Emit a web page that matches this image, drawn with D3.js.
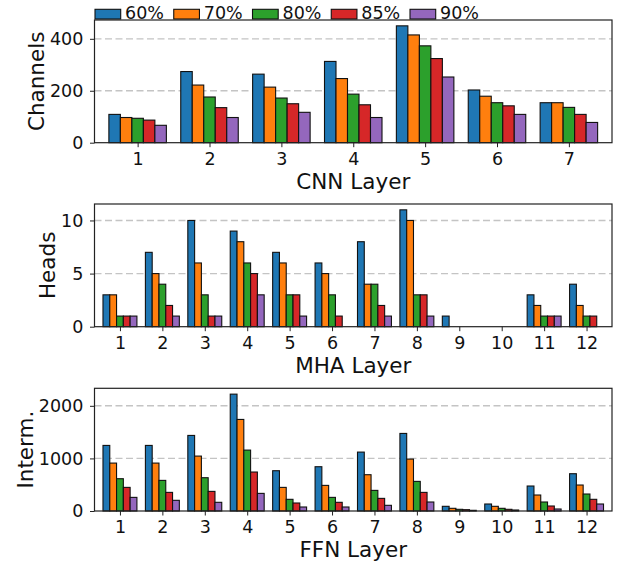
<!DOCTYPE html>
<html>
<head>
<meta charset="utf-8">
<script src="https://cdn.jsdelivr.net/npm/d3@7"></script>
<style>
  html, body { margin: 0; padding: 0; background: #fff; }
  svg { display: block; font-family: "DejaVu Sans", sans-serif; }
</style>
</head>
<body>
<svg id="chart" width="618" height="563"></svg>
<script>
// ---- data ----
const seriesNames = ["60%", "70%", "80%", "85%", "90%"];
const seriesColors = ["#1f77b4", "#ff7f0e", "#2ca02c", "#d62728", "#9467bd"];

const cnnLayers = ["1", "2", "3", "4", "5", "6", "7"];
const cnn60 = [109, 274, 264, 313, 450, 203, 154];
const cnn70 = [97, 222, 214, 247, 415, 179, 154];
const cnn80 = [94, 176, 172, 187, 373, 154, 136];
const cnn85 = [87, 135, 150, 146, 324, 142, 109];
const cnn90 = [67, 97, 117, 97, 253, 109, 78];
const cnnTicks = [0, 200, 400];

const mhaLayers = ["1", "2", "3", "4", "5", "6", "7", "8", "9", "10", "11", "12"];
const mha60 = [3, 7, 10, 9, 7, 6, 8, 11, 1, 0, 3, 4];
const mha70 = [3, 5, 6, 8, 6, 5, 4, 10, 0, 0, 2, 2];
const mha80 = [1, 4, 3, 6, 3, 3, 4, 3, 0, 0, 1, 1];
const mha85 = [1, 2, 1, 5, 3, 1, 2, 3, 0, 0, 1, 1];
const mha90 = [1, 1, 1, 3, 1, 0, 1, 1, 0, 0, 1, 0];
const mhaTicks = [0, 5, 10];

const ffnLayers = ["1", "2", "3", "4", "5", "6", "7", "8", "9", "10", "11", "12"];
const ffn60 = [1247, 1247, 1437, 2222, 766, 842, 1120, 1475, 89, 133, 475, 709];
const ffn70 = [911, 911, 1044, 1741, 449, 487, 690, 987, 51, 89, 304, 494];
const ffn80 = [614, 582, 633, 1158, 222, 259, 392, 563, 32, 51, 171, 323];
const ffn85 = [449, 354, 373, 741, 152, 165, 240, 354, 25, 32, 95, 222];
const ffn90 = [259, 203, 165, 335, 76, 76, 108, 171, 13, 19, 38, 133];
const ffnTicks = [0, 1000, 2000];

const panels = [
  { cats: cnnLayers, series: [cnn60, cnn70, cnn80, cnn85, cnn90], ticks: cnnTicks, ylabel: "Channels", xlabel: "CNN Layer", top: 20 },
  { cats: mhaLayers, series: [mha60, mha70, mha80, mha85, mha90], ticks: mhaTicks, ylabel: "Heads", xlabel: "MHA Layer", top: 204 },
  { cats: ffnLayers, series: [ffn60, ffn70, ffn80, ffn85, ffn90], ticks: ffnTicks, ylabel: "Interm.", xlabel: "FFN Layer", top: 388.3 }
];

// ---- layout ----
const svg = d3.select("#chart");
const left = 94.5, right = 612, plotH = 122.7;
const barW = 0.16;
const tickFont = 17.5, labelFont = 21.5;

panels.forEach(p => {
  const n = p.cats.length;
  const x = d3.scaleLinear().domain([-0.6, n - 0.4]).range([left, right]);
  const ymax = d3.max(p.series.flat()) * 1.05;
  const y = d3.scaleLinear().domain([0, ymax]).range([p.top + plotH, p.top]);

  const g = svg.append("g");

  // grid
  g.append("g").selectAll("line").data(p.ticks.filter(t => t > 0)).join("line")
    .attr("x1", left).attr("x2", right)
    .attr("y1", d => y(d)).attr("y2", d => y(d))
    .attr("stroke", "#c4c4c4").attr("stroke-width", 1.4)
    .attr("stroke-dasharray", "7,3.5");

  // bars
  p.series.forEach((vals, si) => {
    g.append("g").selectAll("rect").data(vals).join("rect")
      .attr("x", (d, i) => x(i + (si - 2) * barW - barW / 2))
      .attr("width", x(barW) - x(0))
      .attr("y", d => y(d))
      .attr("height", d => y(0) - y(d))
      .attr("fill", seriesColors[si])
      .attr("stroke", "#111").attr("stroke-width", 1.1);
  });

  // frame
  g.append("rect").attr("x", left).attr("y", p.top)
    .attr("width", right - left).attr("height", plotH)
    .attr("fill", "none").attr("stroke", "#222").attr("stroke-width", 1.2);

  // x axis
  const xa = g.append("g").attr("transform", `translate(0,${p.top + plotH})`)
    .call(d3.axisBottom(x).tickValues(d3.range(n)).tickFormat(i => p.cats[i])
      .tickSize(4.5).tickSizeOuter(0).tickPadding(5));
  xa.select(".domain").remove();
  xa.selectAll("text").attr("font-size", tickFont).attr("fill", "#111")
    .attr("font-family", "DejaVu Sans");
  xa.selectAll("line").attr("stroke", "#222");

  // y axis
  const ya = g.append("g").attr("transform", `translate(${left},0)`)
    .call(d3.axisLeft(y).tickValues(p.ticks).tickFormat(d3.format("d"))
      .tickSize(4.5).tickSizeOuter(0).tickPadding(6.7));
  ya.select(".domain").remove();
  ya.selectAll("text").attr("font-size", tickFont).attr("fill", "#111")
    .attr("font-family", "DejaVu Sans");
  ya.selectAll("line").attr("stroke", "#222");

  let maxW = 0;
  ya.selectAll("text").each(function () { maxW = Math.max(maxW, this.getComputedTextLength()); });
  const labelX = left - 4.5 - 6.7 - maxW - 6;

  // y label
  g.append("text")
    .attr("transform", `translate(${labelX},${p.top + plotH / 2}) rotate(-90)`)
    .attr("text-anchor", "middle")
    .attr("font-size", labelFont).attr("fill", "#111")
    .text(p.ylabel);

  // x label
  g.append("text")
    .attr("x", (left + right) / 2).attr("y", p.top + plotH + 46.3)
    .attr("text-anchor", "middle")
    .attr("font-size", labelFont).attr("fill", "#111")
    .text(p.xlabel);
});

// ---- legend ----
const leg = svg.append("g");
seriesNames.forEach((name, i) => {
  const lx = 95 + i * 78.75;
  leg.append("rect").attr("x", lx).attr("y", 9.3).attr("width", 25.7).attr("height", 9.7)
    .attr("fill", seriesColors[i]).attr("stroke", "#111").attr("stroke-width", 1.1);
  leg.append("text").attr("x", lx + 30).attr("y", 19)
    .attr("font-size", tickFont).attr("fill", "#111").text(name);
});
</script>
</body>
</html>
